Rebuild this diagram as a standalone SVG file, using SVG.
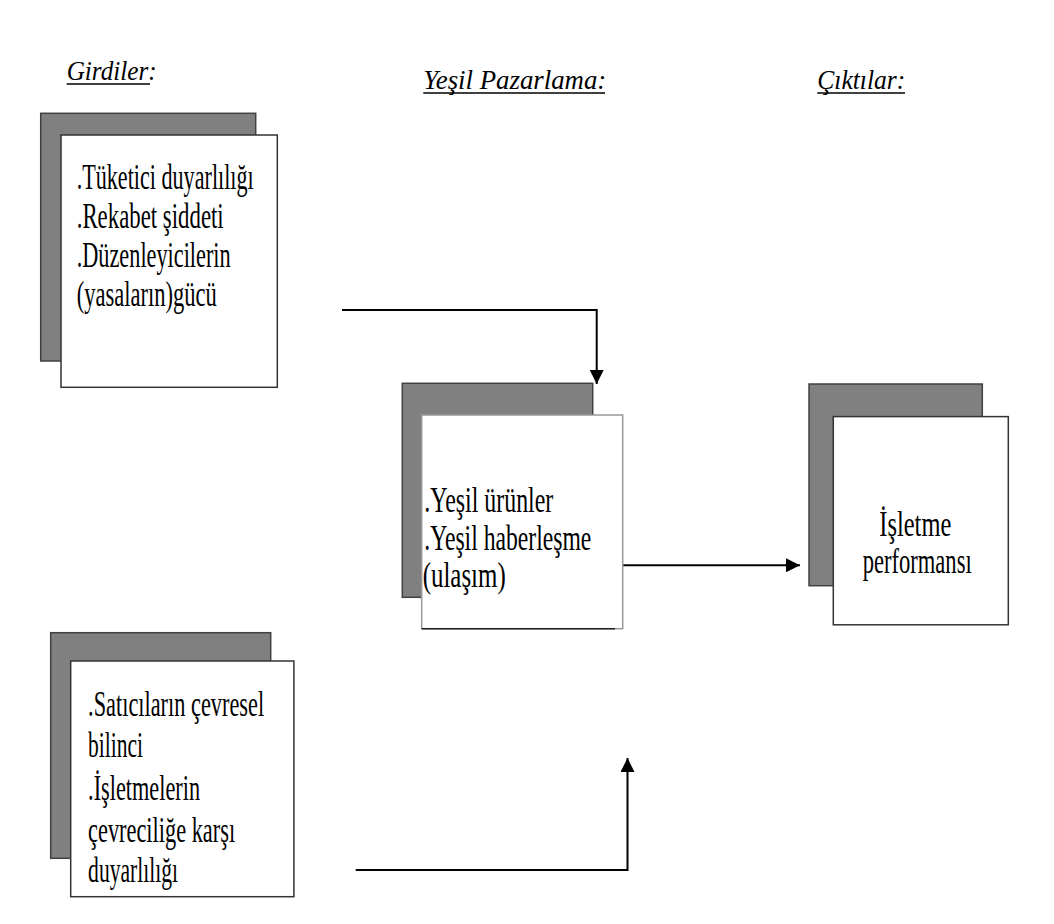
<svg xmlns="http://www.w3.org/2000/svg" width="1054" height="924" viewBox="0 0 1054 924">
<defs>
<marker id="arr" markerWidth="14" markerHeight="14" refX="14" refY="7" orient="auto" markerUnits="userSpaceOnUse"><path d="M0,0 L14,7 L0,14 z" fill="#000"/></marker>
<style>
.sh{fill:#808080;stroke:#404040;stroke-width:1.5}
.bx{fill:#fff;stroke:#333;stroke-width:1.5}
.t{font-family:"Liberation Serif","Times New Roman",serif;font-size:35px;fill:#000}
.h{font-family:"Liberation Serif","Times New Roman",serif;font-style:italic;font-size:28px;fill:#000}
.u{stroke:#000;stroke-width:1.5}
.c{fill:none;stroke:#000;stroke-width:2}
</style>
</defs>
<rect width="1054" height="924" fill="#fff"/>
<g id="headers">
<text class="h" x="66.7" y="80" textLength="90" lengthAdjust="spacingAndGlyphs">Girdiler:</text>
<line class="u" x1="66.7" y1="84" x2="150" y2="84"/>
<text class="h" x="423.3" y="89" textLength="183" lengthAdjust="spacingAndGlyphs">Yeşil Pazarlama:</text>
<line class="u" x1="423.3" y1="93" x2="605" y2="93"/>
<text class="h" x="817.3" y="89" textLength="88" lengthAdjust="spacingAndGlyphs">Çıktılar:</text>
<line class="u" x1="817.3" y1="93" x2="905" y2="93"/>
</g>
<g id="connectors">
<path class="c" d="M342,310 H596.7 V384" marker-end="url(#arr)"/>
<path class="c" d="M619,565.3 H800" marker-end="url(#arr)"/>
<path class="c" d="M355.7,870 H627.5 V758" marker-end="url(#arr)"/>
</g>
<g id="node-girdiler-1">
<rect class="sh" x="40.7" y="113.3" width="215" height="247.7"/>
<rect class="bx" x="61" y="135" width="216.3" height="252.3"/>
<text class="t" x="76.7" y="189" textLength="177" lengthAdjust="spacingAndGlyphs">.Tüketici duyarlılığı</text>
<text class="t" x="76.7" y="228" textLength="147" lengthAdjust="spacingAndGlyphs">.Rekabet şiddeti</text>
<text class="t" x="76.7" y="267" textLength="154" lengthAdjust="spacingAndGlyphs">.Düzenleyicilerin</text>
<text class="t" x="76.7" y="306" textLength="140" lengthAdjust="spacingAndGlyphs">(yasaların)gücü</text>
</g>
<g id="node-yesil-pazarlama">
<rect class="sh" x="402.3" y="383.3" width="190.4" height="214"/>
<rect class="bx" x="421.7" y="415" width="201" height="213.7" style="stroke:#999"/>
<line x1="421.7" y1="628.7" x2="615" y2="628.7" stroke="#222" stroke-width="1.5"/>
<text class="t" x="424.3" y="512" textLength="129" lengthAdjust="spacingAndGlyphs">.Yeşil ürünler</text>
<text class="t" x="424.3" y="550" textLength="167" lengthAdjust="spacingAndGlyphs">.Yeşil haberleşme</text>
<text class="t" x="422.7" y="587" textLength="83" lengthAdjust="spacingAndGlyphs">(ulaşım)</text>
</g>
<g id="node-isletme-performansi">
<rect class="sh" x="809" y="384" width="173.3" height="201.7"/>
<rect class="bx" x="833.3" y="416.6" width="175" height="208.2"/>
<text class="t" x="879.3" y="536" textLength="72" lengthAdjust="spacingAndGlyphs">İşletme</text>
<text class="t" x="862.7" y="573" textLength="109" lengthAdjust="spacingAndGlyphs">performansı</text>
</g>
<g id="node-girdiler-2">
<rect class="sh" x="50.7" y="632.7" width="220" height="225.6"/>
<rect class="bx" x="70.7" y="661" width="223.2" height="235.7"/>
<text class="t" x="88.1" y="716" textLength="176" lengthAdjust="spacingAndGlyphs">.Satıcıların çevresel</text>
<text class="t" x="88.1" y="757" textLength="55" lengthAdjust="spacingAndGlyphs">bilinci</text>
<text class="t" x="88.1" y="800" textLength="112" lengthAdjust="spacingAndGlyphs">.İşletmelerin</text>
<text class="t" x="88.1" y="842" textLength="147" lengthAdjust="spacingAndGlyphs">çevreciliğe karşı</text>
<text class="t" x="88.1" y="882" textLength="90" lengthAdjust="spacingAndGlyphs">duyarlılığı</text>
</g>
</svg>
